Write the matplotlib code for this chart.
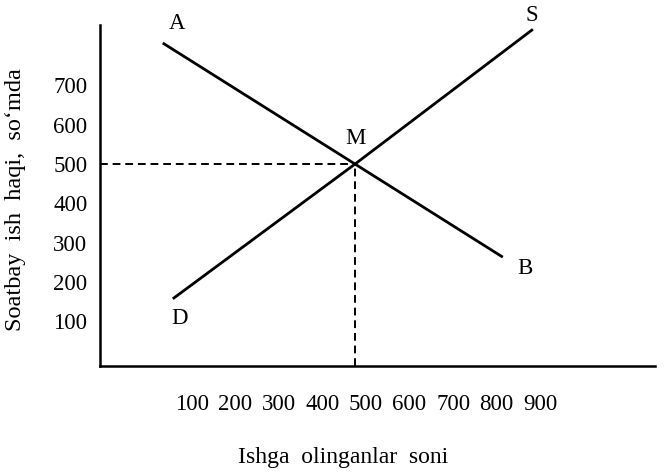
import matplotlib
matplotlib.use("Agg")
import matplotlib.pyplot as plt

# demand line A-B and supply line D-S (schematic labour market)
demand_x = [34, 475, 814]
demand_y = [808, 500, 263]
supply_x = [57, 475, 883]
supply_y = [157, 500, 843]

eq_x, eq_y = 475, 500

point_names = ["A", "B", "D", "S", "M"]
point_x = [66, 864, 73, 881, 477]
point_y = [859, 235, 106, 879, 566]

x_ticks = [100, 200, 300, 400, 500, 600, 700, 800, 900]
y_ticks = [100, 200, 300, 400, 500, 600, 700]

plt.rcParams['font.family'] = ['Liberation Serif', 'DejaVu Serif']

fig = plt.figure(figsize=(6.64, 4.72), dpi=100)
ax = fig.add_axes([0.1506, 0.2246, 0.8358, 0.7225])

ax.plot(demand_x, demand_y, color="black", lw=2.0, solid_capstyle="butt")
ax.plot(supply_x, supply_y, color="black", lw=2.0, solid_capstyle="butt")

# dashed guides to the axes
ax.plot([-110, eq_x], [eq_y, eq_y], color="black", lw=1.4, ls=(0, (4, 2.5)))
ax.plot([eq_x, eq_x], [-14, eq_y], color="black", lw=1.4, ls=(0, (4, 2.5)))

for name, px, py in zip(point_names, point_x, point_y):
    ax.text(px, py, name, fontsize=16.5, ha="center", va="center")

ax.set_xlim(-110, 1163)
ax.set_ylim(-14, 854)

ax.spines["top"].set_visible(False)
ax.spines["right"].set_visible(False)
ax.spines["left"].set_linewidth(1.8)
ax.spines["bottom"].set_linewidth(1.8)

ax.set_xticks(x_ticks)
ax.set_xticklabels([str(v) for v in x_ticks], fontsize=16.5)
ax.set_yticks(y_ticks)
ax.set_yticklabels([str(v) for v in y_ticks], fontsize=16.5)
ax.tick_params(axis="x", length=0, pad=20)
ax.tick_params(axis="y", length=0, pad=9)

fig.text(343 / 664, 1 - 458 / 472, "Ishga  olinganlar  soni", fontsize=17,
         ha="center", va="center")
fig.text(16 / 664, 1 - 200 / 472, "Soatbay  ish  haqi,  so\u2018mda", fontsize=17.5,
         ha="center", va="center", rotation=90)

fig.savefig("out.png", dpi=100)
